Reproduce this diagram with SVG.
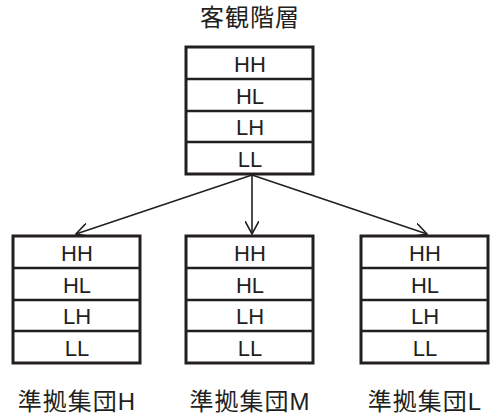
<svg xmlns="http://www.w3.org/2000/svg" width="491" height="417" viewBox="0 0 491 417">
<style>
.box{fill:#fff;stroke:#231f20;stroke-width:3}
.div{stroke:#231f20;stroke-width:2.5}
.cell{font-family:"Liberation Sans",Arial,sans-serif;font-size:22px;fill:#231f20;text-anchor:middle}
.lab{font-family:"Liberation Sans","Noto Sans CJK JP",sans-serif;font-size:24px;fill:#231f20;text-anchor:middle;letter-spacing:1px}
.conn{stroke:#231f20;stroke-width:1.6;fill:none}
</style>
<defs>
<marker id="ah" viewBox="0 0 14 14" refX="13" refY="7" markerWidth="14" markerHeight="14" markerUnits="userSpaceOnUse" orient="auto">
<path d="M0,0 L13,7 L0,14" fill="none" stroke="#231f20" stroke-width="1.6"/>
</marker>
</defs>
<text class="lab" x="250" y="26">客観階層</text>
<g id="connectors">
<line class="conn" x1="252" y1="175" x2="76" y2="234" marker-end="url(#ah)"/>
<line class="conn" x1="252" y1="175" x2="252" y2="234" marker-end="url(#ah)"/>
<line class="conn" x1="252" y1="175" x2="427" y2="234" marker-end="url(#ah)"/>
</g>
<g id="top">
<rect class="box" x="186" y="47" width="127" height="127"/>
<line class="div" x1="186" y1="79" x2="313" y2="79"/>
<line class="div" x1="186" y1="111" x2="313" y2="111"/>
<line class="div" x1="186" y1="142" x2="313" y2="142"/>
<text class="cell" x="250" y="72">HH</text>
<text class="cell" x="250" y="104">HL</text>
<text class="cell" x="250" y="135">LH</text>
<text class="cell" x="250" y="167">LL</text>
</g>
<g id="groupH">
<rect class="box" x="13" y="236" width="127" height="127"/>
<line class="div" x1="13" y1="268" x2="140" y2="268"/>
<line class="div" x1="13" y1="300" x2="140" y2="300"/>
<line class="div" x1="13" y1="331" x2="140" y2="331"/>
<text class="cell" x="77" y="261">HH</text>
<text class="cell" x="77" y="293">HL</text>
<text class="cell" x="77" y="324">LH</text>
<text class="cell" x="77" y="356">LL</text>
<text class="lab" x="77" y="410">準拠集団H</text>
</g>
<g id="groupM">
<rect class="box" x="186" y="236" width="127" height="127"/>
<line class="div" x1="186" y1="268" x2="313" y2="268"/>
<line class="div" x1="186" y1="300" x2="313" y2="300"/>
<line class="div" x1="186" y1="331" x2="313" y2="331"/>
<text class="cell" x="250" y="261">HH</text>
<text class="cell" x="250" y="293">HL</text>
<text class="cell" x="250" y="324">LH</text>
<text class="cell" x="250" y="356">LL</text>
<text class="lab" x="250" y="410">準拠集団M</text>
</g>
<g id="groupL">
<rect class="box" x="361" y="236" width="127" height="127"/>
<line class="div" x1="361" y1="268" x2="488" y2="268"/>
<line class="div" x1="361" y1="300" x2="488" y2="300"/>
<line class="div" x1="361" y1="331" x2="488" y2="331"/>
<text class="cell" x="425" y="261">HH</text>
<text class="cell" x="425" y="293">HL</text>
<text class="cell" x="425" y="324">LH</text>
<text class="cell" x="425" y="356">LL</text>
<text class="lab" x="425" y="410">準拠集団L</text>
</g>
</svg>
